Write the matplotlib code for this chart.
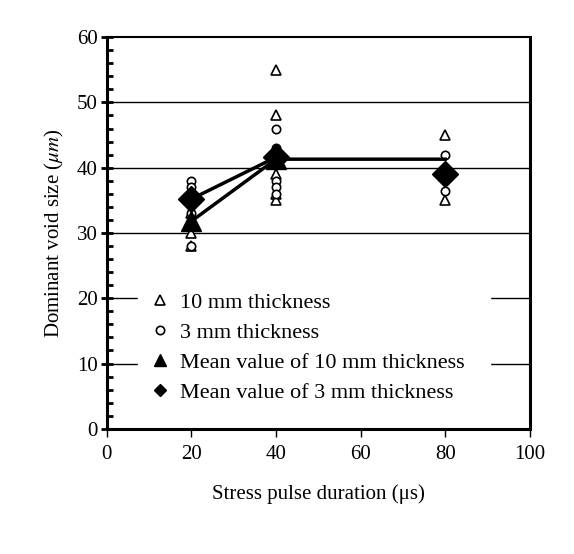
import matplotlib
matplotlib.use('Agg')
import matplotlib.pyplot as plt
from matplotlib.lines import Line2D
from matplotlib.ticker import MultipleLocator

plt.rcParams['font.family'] = ['Liberation Serif', 'DejaVu Serif']
plt.rcParams['mathtext.fontset'] = 'stix'

# individual measurements
x10 = [20, 20, 20, 20, 40, 40, 40, 40, 40, 40, 80, 80]
y10 = [28, 30, 32, 33, 55, 48, 42, 39, 36, 35, 45, 35]
x3 = [20, 20, 20, 20, 20, 40, 40, 40, 40, 40, 40, 80, 80]
y3 = [38, 37, 35, 33, 28, 46, 43, 42, 38, 37, 36, 42, 36.5]

# mean values
xm = [20, 40, 80]
mean10 = [31.8, 41.3, 41.3]
mean3 = [35.2, 41.6, 39.0]

fig = plt.figure(figsize=(5.74, 5.54), dpi=100)
ax = fig.add_axes([0.186, 0.226, 0.737, 0.707])

for g in [10, 20, 30, 40, 50]:
    ax.axhline(g, color='black', lw=1.0, zorder=1)

ax.plot(x10, y10, ls='none', marker='^', ms=7, mfc='white', mec='black', mew=1.2, zorder=3)
ax.plot(x3, y3, ls='none', marker='o', ms=6, mfc='white', mec='black', mew=1.2, zorder=3)
ax.plot(xm, mean10, color='black', lw=2.5, marker='^', ms=14, markevery=[0, 1], zorder=4)
ax.plot(xm[:2], mean3[:2], color='black', lw=2.5, zorder=4)
ax.plot(xm, mean3, ls='none', marker='D', ms=13, color='black', zorder=5)

ax.set_xlim(0, 100)
ax.set_ylim(0, 60)
ax.set_xticks([0, 20, 40, 60, 80, 100])
ax.set_yticks([0, 10, 20, 30, 40, 50, 60])
ax.yaxis.set_minor_locator(MultipleLocator(2))
ax.tick_params(axis='y', which='major', direction='inout', length=9, width=2, labelsize=15, pad=2)
ax.tick_params(axis='y', which='minor', direction='in', length=4, width=2)
ax.tick_params(axis='x', which='major', direction='out', length=6, width=1, labelsize=15, pad=6)
for s in ax.spines.values():
    s.set_linewidth(2.2)
ax.spines['top'].set_linewidth(1.5)

ax.set_xlabel('Stress pulse duration (\u03bcs)', fontsize=15, labelpad=14)
ax.set_ylabel('Dominant void size ($\\mu m$)', fontsize=15, labelpad=8)

handles = [
    Line2D([], [], ls='none', marker='^', ms=7, mfc='white', mec='black', mew=1.2),
    Line2D([], [], ls='none', marker='o', ms=6, mfc='white', mec='black', mew=1.2),
    Line2D([], [], ls='none', marker='^', ms=8, color='black'),
    Line2D([], [], ls='none', marker='D', ms=6, color='black'),
]
labels = ['10 mm thickness', '3 mm thickness', 'Mean value of 10 mm thickness',
          'Mean value of 3 mm thickness']
leg = ax.legend(handles, labels, loc='upper left', bbox_to_anchor=(0.075, 0.368, 0.83, 0.0),
                mode='expand', fontsize=16, frameon=True, fancybox=False, framealpha=1,
                edgecolor='white', handlelength=1.2, handletextpad=0.3, labelspacing=0.42,
                borderpad=0.35, borderaxespad=0.0)
leg.set_zorder(6)

fig.savefig('out.png', dpi=100)
